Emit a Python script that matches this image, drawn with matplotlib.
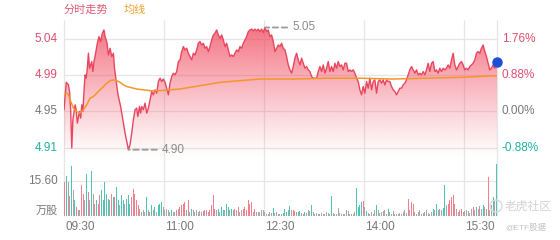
import numpy as np
import matplotlib
matplotlib.use("Agg")
import matplotlib.pyplot as plt
from matplotlib.colors import to_rgb
from matplotlib.patches import PathPatch, Circle
from matplotlib.transforms import IdentityTransform

plt.rcParams['font.family'] = ['Liberation Sans', 'Noto Sans CJK SC', 'DejaVu Sans']

# --- data ---
prev_close = 4.95
pct_levels = [1.76, 0.88, 0.00, -0.88]
vol_level = 15.60
time_ticks = [0, 90, 180, 270, 360]
time_labels = ["09:30", "11:00", "12:30", "14:00", "15:30"]
session_end = 390

# (minutes after 09:30, price)
price_trace = [
    (0, 4.952), (2, 4.985), (4, 4.982), (5, 4.974), (6, 4.952), (7, 4.906), (8, 4.940),
    (10, 4.958), (11, 4.952), (12, 4.936), (14, 4.950), (15, 4.942), (16, 4.958), (17, 4.950),
    (18, 4.974), (19, 4.994), (20, 4.990), (21, 5.002), (22, 5.020), (23, 5.002), (25, 5.010),
    (26, 4.998), (27, 5.010), (28.5, 5.020), (30, 5.032), (31.5, 5.040), (33, 5.034),
    (34.5, 5.044), (36, 5.048), (37, 5.040), (38.5, 5.034), (40, 5.018), (41.5, 5.026),
    (43, 5.016), (44.5, 5.020), (45.5, 5.002), (47, 4.986), (48, 4.976), (49, 4.968),
    (51, 4.956), (53, 4.940), (55, 4.924), (56.5, 4.914), (58, 4.904), (59.5, 4.910),
    (61, 4.924), (62.5, 4.940), (64, 4.952), (65.5, 4.954), (66.5, 4.944), (68, 4.956),
    (69, 4.948), (70, 4.956), (71.5, 4.952), (73, 4.960), (74.5, 4.948), (76, 4.954),
    (77.5, 4.964), (79, 4.974), (80.5, 4.970), (82, 4.976), (83.5, 4.972), (85, 4.986),
    (86.5, 4.990), (88, 4.986), (89.5, 4.989), (91, 4.985), (92.5, 4.978), (94, 4.970),
    (95.5, 4.984), (97, 4.992), (98.5, 4.996), (100, 4.994), (101.5, 4.998), (103, 5.010),
    (104.5, 5.012), (106, 5.022), (107.5, 5.028), (109, 5.024), (110.5, 5.026), (112, 5.020),
    (113.5, 5.016), (115, 5.012), (116.5, 5.020), (118, 5.018), (119.5, 5.024), (121, 5.032),
    (122.5, 5.034), (124, 5.030), (125.5, 5.032), (127, 5.026), (128.5, 5.028), (130, 5.022),
    (131.5, 5.028), (133, 5.036), (134.5, 5.042), (136, 5.044), (137.5, 5.048), (139, 5.042),
    (140.5, 5.038), (142, 5.042), (143.5, 5.036), (145, 5.028), (146.5, 5.032), (148, 5.024),
    (149.5, 5.016), (151, 5.018), (152.5, 5.016), (154, 5.020), (155.5, 5.024), (157, 5.022),
    (158.5, 5.028), (160, 5.026), (161.5, 5.032), (163, 5.036), (164.5, 5.040), (166, 5.046),
    (167.5, 5.048), (169, 5.049), (170.5, 5.047), (172, 5.049), (173.5, 5.047), (175, 5.049),
    (176.5, 5.046), (178, 5.049), (179.5, 5.045), (181, 5.051), (182.5, 5.046), (184, 5.048),
    (185.5, 5.040), (187, 5.042), (188.5, 5.034), (190, 5.022), (191.5, 5.026), (193, 5.030),
    (194.5, 5.028), (196, 5.032), (197.5, 5.026), (199, 5.024), (200.5, 5.016), (202, 5.006),
    (203.5, 5.000), (205, 4.996), (206.5, 5.004), (208, 5.014), (209.5, 5.020), (211, 5.012),
    (212.5, 5.006), (214, 5.014), (215.5, 5.008), (217, 5.002), (218.5, 5.004), (220, 5.000),
    (221.5, 4.998), (223, 4.992), (224.5, 4.990), (226, 4.990), (227.5, 4.990), (229, 4.998),
    (230.5, 5.004), (232, 4.998), (233.5, 5.006), (235, 4.996), (236.5, 5.002), (238, 5.010),
    (239.5, 4.998), (241, 5.004), (242.5, 4.998), (244, 5.008), (245.5, 5.002), (247, 5.010),
    (248.5, 5.004), (250, 5.006), (251.5, 5.000), (253, 5.008), (254.5, 5.008), (256, 4.998),
    (257.5, 5.000), (259, 4.998), (260.5, 5.000), (262, 4.996), (263.5, 4.990), (265, 4.986),
    (266.5, 4.976), (268, 4.970), (269.5, 4.980), (271, 4.972), (272.5, 4.986), (274, 4.978),
    (275.5, 4.990), (277, 4.976), (278.5, 4.986), (280, 4.988), (281.5, 4.972), (283, 4.986),
    (284.5, 4.988), (286, 4.984), (287.5, 4.988), (289, 4.982), (290.5, 4.988), (292, 4.986),
    (293.5, 4.986), (295, 4.980), (296.5, 4.976), (298, 4.974), (299.5, 4.970), (301, 4.974),
    (302.5, 4.978), (304, 4.978), (305.5, 4.982), (307, 4.984), (308.5, 4.988), (310, 4.994),
    (311.5, 5.000), (313, 5.004), (314.5, 5.000), (316, 4.996), (317.5, 5.000), (319, 4.994),
    (320.5, 4.996), (322, 4.994), (323.5, 4.998), (325, 4.994), (326.5, 5.000), (328, 5.008),
    (329.5, 4.998), (331, 5.008), (332.5, 5.010), (334, 4.998), (335.5, 5.000), (337, 4.996),
    (338.5, 5.002), (340, 4.998), (341.5, 5.002), (343, 5.000), (344.5, 5.002), (346, 5.006),
    (347.5, 5.002), (349, 5.012), (350.5, 5.020), (352, 5.006), (353.5, 5.000), (355, 5.004),
    (356.5, 5.008), (358, 5.010), (359.5, 5.006), (361, 5.000), (362.5, 5.002), (364, 5.000),
    (365.5, 5.004), (367, 5.006), (368.5, 5.008), (370, 5.012), (371.5, 5.020), (373, 5.022),
    (374.5, 5.020), (376, 5.026), (377.5, 5.030), (379, 5.022), (380.5, 5.016), (382, 5.008),
    (383.5, 5.000), (385, 5.002), (386.5, 5.006), (388, 5.002), (390, 5.010),
]

avg_trace = [
    (0, 4.970), (2.5, 4.972), (4, 4.970), (5.5, 4.964), (8.5, 4.954), (11.5, 4.950),
    (14.5, 4.948), (17.5, 4.952), (20.5, 4.958), (23.5, 4.966), (26.5, 4.968), (29.5, 4.972),
    (32.5, 4.976), (35.5, 4.980), (38.5, 4.984), (41.5, 4.987), (44.5, 4.988), (47.5, 4.987),
    (50.5, 4.985), (53.5, 4.982), (56.5, 4.980), (59.5, 4.979), (65.5, 4.977), (71.5, 4.976),
    (77.5, 4.975), (86.5, 4.975), (104.5, 4.977), (122.5, 4.981), (140.5, 4.985),
    (158.5, 4.987), (176.5, 4.989), (206.5, 4.989), (236.5, 4.990), (266.5, 4.990),
    (296, 4.989), (326.5, 4.990), (356.5, 4.991), (390, 4.993),
]

# volume in 万股, one bar per 1.5 minutes
volume = [
    15.0, 17.5, 15.0, 9.0, 21.9, 11.3, 6.9, 4.0, 2.5, 2.5,
    13.6, 9.9, 6.9, 18.7, 10.6, 6.9, 19.7, 9.9, 5.4, 6.9,
    5.4, 9.1, 11.3, 6.9, 15.0, 9.9, 7.7, 6.9, 9.9, 8.4,
    8.4, 12.8, 6.9, 4.7, 9.1, 6.9, 5.4, 7.7, 9.1, 5.4,
    8.4, 12.1, 9.9, 6.9, 4.7, 3.2, 1.8, 2.5, 1.8, 8.4,
    2.5, 1.8, 4.7, 2.5, 4.0, 1.8, 4.7, 5.4, 6.2, 4.0,
    2.5, 3.2, 2.5, 1.8, 2.8, 1.8, 1.8, 2.5, 3.2, 4.0,
    4.7, 5.4, 6.2, 2.5, 6.9, 1.8, 3.2, 2.5, 1.8, 2.5,
    1.8, 2.1, 1.8, 2.1, 2.5, 2.5, 1.8, 2.5, 4.7, 9.1,
    3.2, 2.5, 3.2, 1.8, 4.0, 2.5, 2.5, 5.4, 4.0, 2.5,
    3.2, 2.5, 3.2, 2.5, 4.0, 1.8, 2.5, 3.2, 4.0, 2.5,
    6.9, 5.4, 6.2, 1.8, 3.2, 1.8, 1.8, 1.8, 2.8, 2.5,
    1.8, 1.0, 0.7, 1.8, 1.5, 3.7, 1.5, 1.8, 1.0,
    1.0, 1.0, 1.5, 3.2, 1.8, 2.5, 4.3, 2.5, 2.5, 2.1,
    1.8, 1.8, 2.1, 1.3, 1.0, 1.8, 1.5, 2.8, 2.1, 4.7,
    1.8, 1.0, 1.3, 0.7, 1.0, 1.3, 0.7, 1.0, 1.8, 1.3,
    1.0, 8.8, 1.3, 1.0, 0.7, 3.5, 1.3, 1.0, 0.7, 1.0,
    2.5, 2.1, 0.7, 0.7, 1.0, 1.8, 12.4, 4.0, 4.7, 6.2,
    6.6, 4.0, 2.1, 1.3, 1.0, 1.8, 1.0, 2.5, 4.7, 2.5,
    1.3, 1.8, 2.1, 2.8, 1.0, 3.2, 1.8, 1.0, 2.1, 1.0,
    0.7, 1.0, 1.3, 1.0, 1.8, 2.5, 1.3, 7.4, 2.5, 6.2,
    5.4, 1.8, 1.0, 1.8, 2.5, 1.0, 1.3, 1.8, 2.5, 1.3,
    1.0, 1.8, 3.2, 2.8, 5.4, 2.5, 3.2, 2.5, 3.5, 13.6,
    4.7, 5.4, 6.9, 8.4, 9.1, 5.4, 3.2, 1.8, 2.5, 3.2,
    1.8, 2.1, 2.5, 2.2, 1.3, 3.2, 4.0, 2.8, 4.0, 3.2,
    4.2, 3.2, 4.7, 4.0, 3.2, 17.2, 2.8, 4.7, 8.4, 6.9, 23.1,
]
# r = up (pink), t = down (teal), g = flat (gray)
vol_side = (
    "rtgrtgtrgg" "rrgtrgtgrt" "rrtttttgrt" "rttgttgttt" "rrrrrggggt"
    "grtgtgtttg" "ggggtggrgr" "rrrgrgtggg" "gggrgrgrrr" "rgtgttgttg"
    "tgrgrggrrr" "rrrgrggggg" "gggggtggg"
    "gggttgtgrr" "gttggtgggt" "gggggggggg" "gtgggggggg" "ggggggtttt"
    "rgtgggggtg" "gggggtgggg" "gggggggrgr" "rggggggggg" "ggtgtgggtt"
    "grrrrrggrr" "ggggggrgtg" "rgtggrggtgt"
)

# --- colours ---
c_up = '#dc4f6e'
c_down = '#1fb0a2'
c_flat = '#777777'
c_line = '#e8465e'
c_avg = '#f5962a'
c_grid = '#e6e6e6'
bar_colors = {'r': '#f27e8f', 't': '#4cc4b6', 'g': '#a8a8a8'}

W, H = 560, 240
fig = plt.figure(figsize=(W / 100, H / 100), dpi=100)
ax = fig.add_axes([64 / W, 1 - 158 / H, 433 / W, 138 / H])
axv = fig.add_axes([64 / W, 1 - 216 / H, 433 / W, 58 / H])

t = np.array([a for a, b in price_trace])
p = np.array([b for a, b in price_trace])
ta = np.array([a for a, b in avg_trace])
pa = np.array([b for a, b in avg_trace])
levels = [prev_close * (1 + v / 100) for v in pct_levels]

y0, y1 = 4.894, 5.060
ax.set_xlim(0, session_end)
ax.set_ylim(y0, y1)

for a in (ax, axv):
    a.axis('off')
    a.vlines(time_ticks + [session_end], 0, 1, transform=a.get_xaxis_transform(),
             color=c_grid, lw=0.9, clip_on=False, zorder=0)
ax.hlines(levels, 0, session_end, color=c_grid, lw=0.9, zorder=0)

# gradient area under the price
poly = ax.fill_between(t, p, y0, color='none', lw=0)
patch = PathPatch(poly.get_paths()[0], transform=ax.transData, fc='none', ec='none')
ax.add_patch(patch)
grad = np.zeros((256, 1, 4))
grad[..., :3] = to_rgb('#f04358')
grad[..., 3] = np.linspace(0.0, 0.8, 256)[:, None] ** 1.1
im = ax.imshow(grad, extent=[0, session_end, y0, y1], origin='lower', aspect='auto',
               zorder=1, interpolation='bilinear')
im.set_clip_path(patch)
ax.set_xlim(0, session_end)
ax.set_ylim(y0, y1)

ax.plot(t, p, color=c_line, lw=1.0, zorder=3)
ax.plot(ta, pa, color=c_avg, lw=1.1, zorder=4)
ax.plot(t[-1], p[-1], 'o', color='#1d4fd6', ms=6.5, zorder=6, clip_on=False)

# high / low marks
i_hi, i_lo = np.argmax(p), np.argmin(p)
dash = dict(arrowstyle='-', color='#9a9a9a', lw=1.3, linestyle=(0, (3, 2)), shrinkA=0, shrinkB=0)
ax.annotate('', xy=(t[i_hi], p[i_hi]), xytext=(16, 0), textcoords='offset points',
            arrowprops=dash, annotation_clip=False)
ax.annotate(f"{p[i_hi]:.2f}", xy=(t[i_hi], p[i_hi]), xytext=(19.5, 0.5), textcoords='offset points',
            ha='left', va='center', color='#8a8a8a', fontsize=8.5)
ax.annotate('', xy=(t[i_lo], p[i_lo]), xytext=(20.5, 0), textcoords='offset points',
            arrowprops=dash, annotation_clip=False)
ax.annotate(f"{p[i_lo]:.2f}", xy=(t[i_lo], p[i_lo]), xytext=(24, -0.5), textcoords='offset points',
            ha='left', va='center', color='#8a8a8a', fontsize=8.5)

# price / percent labels
for v, lev in zip(pct_levels, levels):
    c = c_up if v > 0 else (c_down if v < 0 else c_flat)
    ax.annotate(f"{lev:.2f}", xy=(0, lev), xycoords=ax.get_yaxis_transform(),
                xytext=(-4.5, 0), textcoords='offset points', ha='right', va='center',
                color=c, fontsize=8.5)
    ax.annotate(f"{v:.2f}%", xy=(1, lev), xycoords=ax.get_yaxis_transform(),
                xytext=(3.5, 0), textcoords='offset points', ha='left', va='center',
                color=c, fontsize=8.5)

# volume panel
vol_t = 0.9 + 1.5 * np.arange(len(volume))
axv.bar(vol_t, volume, width=0.9, color=[bar_colors[s] for s in vol_side], lw=0, zorder=2)
axv.set_xlim(0, session_end)
axv.set_ylim(0, 25.6)
axv.hlines([vol_level], 0, session_end, color=c_grid, lw=0.9, zorder=0)
axv.annotate(f"{vol_level:.2f}", xy=(0, vol_level), xycoords=axv.get_yaxis_transform(),
             xytext=(-4.5, 0), textcoords='offset points', ha='right', va='center',
             color=c_flat, fontsize=8.5)
axv.annotate("万股", xy=(0, 0), xycoords=axv.get_yaxis_transform(),
             xytext=(-4.5, 0), textcoords='offset points', ha='right', va='bottom',
             color=c_flat, fontsize=8)
for m, lab in zip(time_ticks, time_labels):
    axv.annotate(lab, xy=(m, 0), xycoords=axv.get_xaxis_transform(),
                 xytext=(1, -8), textcoords='offset points', ha='left', va='center',
                 color=c_flat, fontsize=8.5)

# header legend
fig.text(64 / W, 1 - 10 / H, "分时走势", color='#e05a74', fontsize=8, va='center')
fig.text(124 / W, 1 - 10 / H, "均线", color='#f0a030', fontsize=8, va='center')

# watermark
fig.add_artist(Circle((496, H - 206), 6, transform=IdentityTransform(),
                      fc='none', ec='#d8d8d8', lw=1.0))
fig.text(505 / W, 1 - 207 / H, "老虎社区", color='#d2d2d2', fontsize=8.5, va='center')
fig.text(505 / W, 1 - 228 / H, "@ETF股据", color='#c4c4c4', fontsize=6, va='center')

fig.savefig("out.png", dpi=100)
